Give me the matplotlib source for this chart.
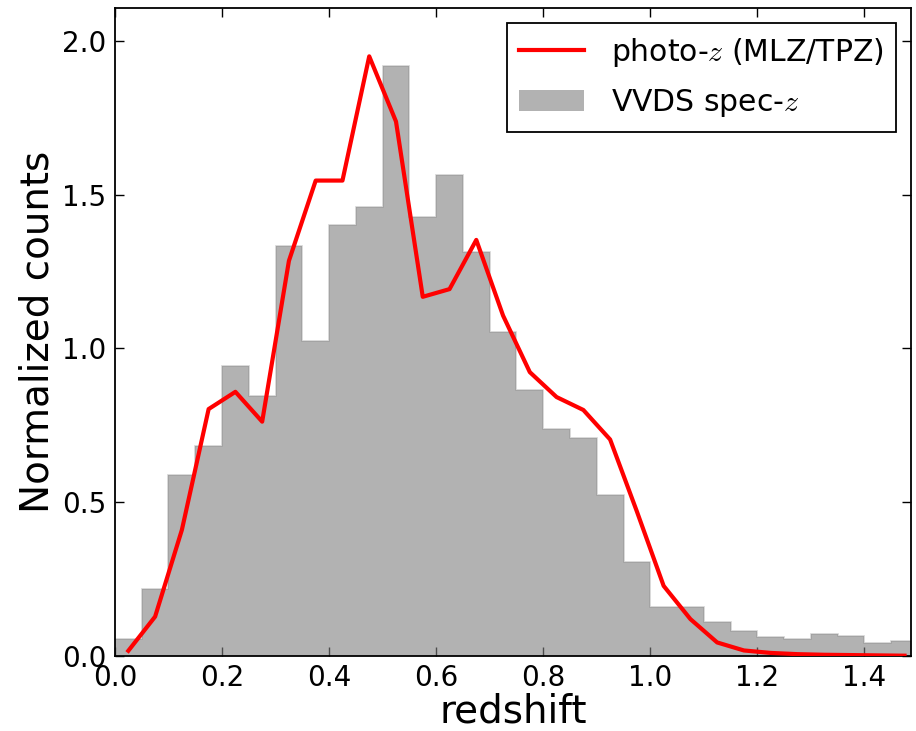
import numpy as np
import matplotlib
matplotlib.use('Agg')
import matplotlib.pyplot as plt

plt.rcParams['mathtext.fontset'] = 'cm'
plt.rcParams['font.family'] = 'DejaVu Sans'

# histogram bins (width 0.05) and VVDS spec-z normalized counts
bin_edges = np.round(np.arange(0.0, 1.5001, 0.05), 3)
specz_counts = [0.055, 0.218, 0.588, 0.683, 0.943, 0.846, 1.333, 1.025, 1.401, 1.460,
                1.918, 1.426, 1.563, 1.314, 1.054, 0.864, 0.738, 0.708, 0.523, 0.305,
                0.160, 0.160, 0.110, 0.080, 0.062, 0.055, 0.072, 0.066, 0.041, 0.050]

# photo-z curve at bin centres
photoz_x = [0.025, 0.075, 0.125, 0.175, 0.225, 0.275, 0.325, 0.375, 0.425, 0.475,
            0.525, 0.575, 0.625, 0.675, 0.725, 0.775, 0.825, 0.875, 0.925, 0.975,
            1.025, 1.075, 1.125, 1.175, 1.225, 1.275, 1.325, 1.375, 1.425, 1.475]
photoz_y = [0.017, 0.128, 0.410, 0.803, 0.859, 0.762, 1.285, 1.546, 1.546, 1.950,
            1.738, 1.168, 1.193, 1.353, 1.107, 0.923, 0.842, 0.800, 0.704, 0.470,
            0.228, 0.120, 0.044, 0.018, 0.010, 0.006, 0.004, 0.003, 0.002, 0.001]

fig = plt.figure(figsize=(9.16, 7.31), dpi=100)
ax = fig.add_axes([0.1255, 0.1026, 0.869, 0.8864])

ax.plot(photoz_x, photoz_y, color='red', lw=3, label=r'photo-$z$ (MLZ/TPZ)', zorder=3)
ax.stairs(specz_counts, bin_edges, fill=True, color='gray', alpha=0.6,
          label=r'VVDS spec-$z$', zorder=2)
ax.stairs(specz_counts, bin_edges, fill=False, color='gray', alpha=0.35, lw=1.2, zorder=2)

ax.set_xlim(0, 1.487)
ax.set_ylim(0, 2.107)
ax.set_xticks([0.0, 0.2, 0.4, 0.6, 0.8, 1.0, 1.2, 1.4])
ax.set_yticks([0.0, 0.5, 1.0, 1.5, 2.0])
ax.tick_params(direction='in', length=6.5, width=1, labelsize=20, pad=6,
               top=True, right=True)
for s in ax.spines.values():
    s.set_linewidth(1.3)

ax.set_xlabel('redshift', fontsize=28, labelpad=0)
ax.set_ylabel('Normalized counts', fontsize=28, labelpad=4)

leg = ax.legend(loc='upper right', fontsize=21.5, fancybox=False, framealpha=1,
                edgecolor='black', handlelength=2.17, handletextpad=0.9,
                labelspacing=0.62, borderaxespad=0.5, borderpad=0.42)
leg.get_frame().set_linewidth(1.3)

fig.savefig('out.png', dpi=100)
